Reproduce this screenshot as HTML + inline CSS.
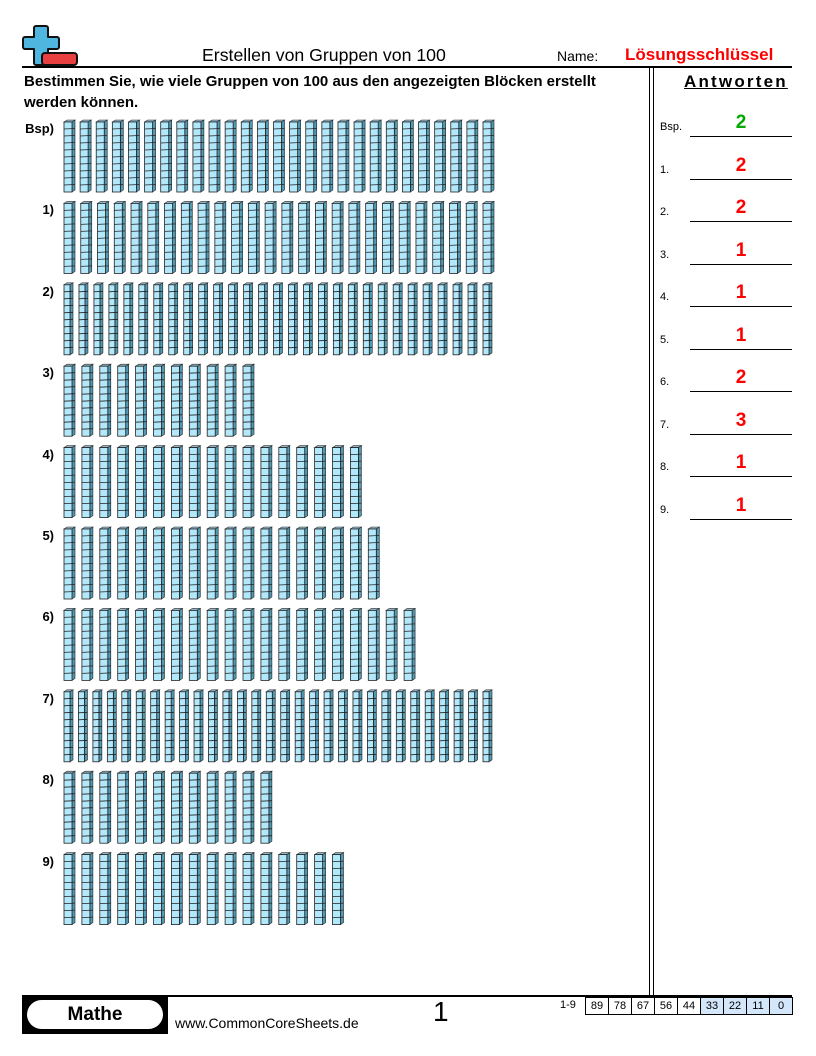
<!DOCTYPE html>
<html><head><meta charset="utf-8">
<style>
body{margin:0;width:816px;height:1056px;position:relative;background:#fff;font-family:"Liberation Sans",sans-serif;overflow:hidden}
.a{position:absolute;white-space:nowrap}
</style></head><body>
<svg class="a" style="left:22px;top:22px" width="58" height="46">
<path d="M14,4 h10 a2,2 0 0 1 2,2 v9 h9 a2,2 0 0 1 2,2 v8 a2,2 0 0 1 -2,2 h-9 v14 a2,2 0 0 1 -2,2 h-10 a2,2 0 0 1 -2,-2 v-14 h-9 a2,2 0 0 1 -2,-2 v-8 a2,2 0 0 1 2,-2 h9 v-9 a2,2 0 0 1 2,-2 z" fill="#4fb6e0" stroke="#111" stroke-width="2" stroke-linejoin="round"/>
<rect x="20" y="31" width="35" height="12" rx="3" fill="#e84040" stroke="#111" stroke-width="2"/>
</svg>
<div class="a" style="left:202px;top:45px;font-size:17.7px">Erstellen von Gruppen von 100</div>
<div class="a" style="left:557px;top:48px;font-size:14px">Name:</div>
<div class="a" style="left:625px;top:45px;font-size:17px;font-weight:bold;color:#f00">Lösungsschlüssel</div>
<div class="a" style="left:22px;top:66px;width:770px;height:2px;background:#000"></div>
<div class="a" style="left:24px;top:71px;font-size:15px;font-weight:bold;line-height:21px">Bestimmen Sie, wie viele Gruppen von 100 aus den angezeigten Blöcken erstellt<br>werden können.</div>
<div class="a" style="left:649px;top:66px;width:1px;height:930px;background:#000"></div>
<div class="a" style="left:653px;top:66px;width:1px;height:930px;background:#000"></div>
<div class="a" style="left:684px;top:72px;font-size:17px;font-weight:bold;letter-spacing:2.2px;text-decoration:underline">Antworten</div>
<div id="answers"></div>
<svg id="rods" class="a" style="left:0;top:0" width="650" height="1000"></svg>
<div class="a" style="left:22px;top:995px;width:770px;height:2px;background:#000"></div>
<div class="a" style="left:22px;top:996px;width:146px;height:38px;background:#000"></div>
<div class="a" style="left:27px;top:1000px;width:136px;height:29px;background:#fff;border-radius:15px;text-align:center;font-size:19px;font-weight:bold;line-height:29px">Mathe</div>
<div class="a" style="left:175px;top:1015px;font-size:14px">www.CommonCoreSheets.de</div>
<div class="a" style="left:433px;top:996px;font-size:28px">1</div>
<div class="a" style="left:560px;top:999px;font-size:11px">1-9</div>
<div id="score" class="a" style="left:585px;top:997px;display:flex;border-left:1px solid #000"></div>
<script>
const rowLabels=["Bsp)","1)","2)","3)","4)","5)","6)","7)","8)","9)"];
const rodCounts=[27,26,29,11,17,18,20,30,12,16];
const answerLabels=["Bsp.","1.","2.","3.","4.","5.","6.","7.","8.","9."];
const answerValues=[2,2,2,1,1,1,2,3,1,1];
const scores=["89","78","67","56","44","33","22","11","0"];
const svg=document.getElementById('rods');
const NS='http://www.w3.org/2000/svg';
function mk(t,a){const e=document.createElementNS(NS,t);for(const k in a)e.setAttribute(k,a[k]);return e;}
rowLabels.forEach((lab,i)=>{
  const top=120+i*81.4;
  const d=document.createElement('div');
  d.className='a';d.textContent=lab;
  d.style.cssText=`right:${816-54}px;top:${top+1}px;font-size:13px;font-weight:bold`;
  
  
  document.body.appendChild(d);
  const n=rodCounts[i];
  const sp=Math.min(17.9,419/(n-1));
  const w=sp<16?6:8;
  for(let r=0;r<n;r++){
    const x=64+r*sp,y=top+2;
    const g=mk('g',{});
    
    
    g.appendChild(mk('polygon',{points:`${x},${y} ${x+3},${y-2} ${x+w+3},${y-2} ${x+w},${y}`,fill:'#8fb4c4',stroke:'#333','stroke-width':0.6}));
    g.appendChild(mk('polygon',{points:`${x+w},${y} ${x+w+3},${y-2} ${x+w+3},${y+68} ${x+w},${y+70}`,fill:'#4f9ab4',stroke:'#222','stroke-width':0.6}));
    g.appendChild(mk('rect',{x:x,y:y,width:w,height:70,fill:'#b3e8fb',stroke:'#222','stroke-width':0.8}));
    for(let c=1;c<10;c++)g.appendChild(mk('line',{x1:x,y1:y+c*7,x2:x+w+3,y2:y+c*7-0.5,stroke:'#222','stroke-width':0.8}));
    svg.appendChild(g);
  }
});
const ans=document.getElementById('answers');
answerLabels.forEach((l,i)=>{
  const y=136+i*42.5;
  const a=document.createElement('div');a.className='a';a.textContent=l;
  a.style.cssText=`left:660px;top:${y-15}px;font-size:11px`;
  
  
  ans.appendChild(a);
  const ln=document.createElement('div');ln.className='a';
  ln.style.cssText=`left:690px;top:${y}px;width:102px;height:1px;background:#000`;
  
  
  ans.appendChild(ln);
  const v=document.createElement('div');v.className='a';v.textContent=answerValues[i];
  v.style.cssText=`left:690px;width:102px;text-align:center;top:${y-24}px;font-size:19px;font-weight:bold;color:${i==0?'#0a0':'#f00'}`;
  
  
  ans.appendChild(v);
});
const sc=document.getElementById('score');
scores.forEach((s,i)=>{
  const c=document.createElement('div');c.textContent=s;
  c.style.cssText=`width:22px;height:16px;border:1px solid #000;border-left:none;font-size:11px;text-align:center;line-height:16px;background:${i>=5?'#d4e6fa':'#fff'}`;
  
  
  sc.appendChild(c);
});
</script>
</body></html>
